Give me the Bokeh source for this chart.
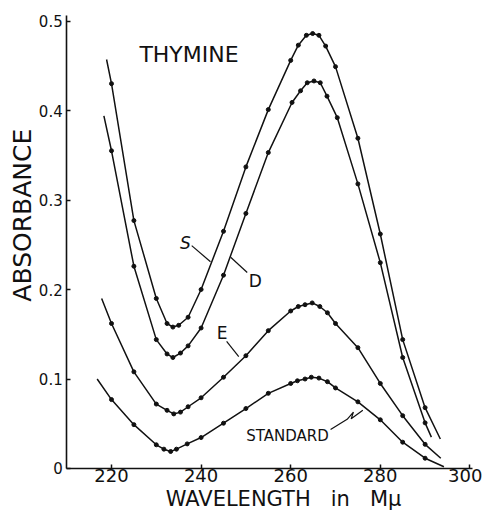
from bokeh.plotting import figure
from bokeh.models import Range1d, FixedTicker, Label
from bokeh.embed import file_html
from bokeh.resources import INLINE

# ---------------- data ----------------
s_wl = [218.9, 220, 225, 230, 232.4, 233.7, 235, 237.1, 240, 245, 250, 255, 260, 261.7, 263.5, 264.9, 266.3, 267.8, 270, 275, 280, 285, 290, 293.4]
s_ab = [0.457, 0.430, 0.277, 0.190, 0.162, 0.158, 0.160, 0.169, 0.200, 0.265, 0.337, 0.401, 0.456, 0.473, 0.484, 0.486, 0.484, 0.472, 0.449, 0.369, 0.262, 0.144, 0.068, 0.033]

d_wl = [218.3, 220, 225, 230, 232.4, 233.7, 235.4, 237.1, 240, 245, 250, 255, 260.3, 262.2, 263.7, 265.2, 266.6, 268.1, 270.4, 275, 280, 285, 290, 291.4]
d_ab = [0.394, 0.355, 0.226, 0.144, 0.128, 0.124, 0.129, 0.137, 0.157, 0.216, 0.285, 0.353, 0.409, 0.422, 0.431, 0.433, 0.431, 0.416, 0.392, 0.318, 0.230, 0.124, 0.051, 0.035]

e_wl = [217.8, 220, 225, 230, 232.4, 233.9, 235.4, 237.1, 240, 245, 250, 255, 260, 261.7, 263.2, 264.8, 266.5, 268.2, 270, 275, 280, 285, 290, 293.5]
e_ab = [0.190, 0.162, 0.108, 0.072, 0.065, 0.061, 0.063, 0.069, 0.079, 0.102, 0.126, 0.154, 0.176, 0.181, 0.183, 0.185, 0.181, 0.174, 0.162, 0.135, 0.095, 0.059, 0.027, 0.0115]

std_wl = [216.8, 220, 225, 230, 231.7, 233.2, 234.5, 236.9, 240, 245, 250, 255, 260, 261.5, 263.2, 264.6, 266.3, 268.2, 270, 275, 280, 285, 290, 294.2]
std_ab = [0.100, 0.077, 0.049, 0.0265, 0.0216, 0.019, 0.0216, 0.0275, 0.0346, 0.0506, 0.067, 0.084, 0.095, 0.098, 0.100, 0.102, 0.101, 0.097, 0.090, 0.0745, 0.0544, 0.0294, 0.0115, 0.002]

x_ticks = [220, 240, 260, 280, 300]
x_tick_labels = ["220", "240", "260", "280", "300"]
y_ticks = [0, 0.1, 0.2, 0.3, 0.4, 0.5]
y_tick_labels = ["0", "0.1", "0.2", "0.3", "0.4", "0.5"]

title_text = "THYMINE"
x_title = "WAVELENGTH\u00a0\u00a0 in\u00a0\u00a0 M\u03bc"
y_title = "ABSORBANCE"

INK = "#111111"
FONT = "DejaVu Sans"

p = figure(width=484, height=513, x_range=Range1d(195.223, 303.259), y_range=Range1d(-0.05028, 0.52291),
           output_backend="svg", toolbar_location=None,
           min_border=0, min_border_left=0, min_border_right=0, min_border_top=0, min_border_bottom=0)
p.outline_line_color = None
p.grid.visible = False
p.background_fill_color = "white"
p.border_fill_color = "white"

# axes drawn at fixed data locations inside the frame
p.xaxis.fixed_location = 0
p.xaxis.bounds = (210, 300.5)
p.yaxis.fixed_location = 210
p.yaxis.bounds = (0, 0.506)
p.xaxis.ticker = FixedTicker(ticks=x_ticks)
p.xaxis.major_label_overrides = {t: (l if t != 300 else "") for t, l in zip(x_ticks, x_tick_labels)}
p.yaxis.ticker = FixedTicker(ticks=y_ticks)
p.yaxis.major_label_overrides = {t: l for t, l in zip(y_ticks, y_tick_labels)}
for ax in (p.xaxis, p.yaxis):
    ax.axis_line_color = INK
    ax.axis_line_width = 1.6
    ax.major_tick_line_color = INK
    ax.major_tick_line_width = 1.5
    ax.major_tick_in = 4
    ax.major_tick_out = 0
    ax.minor_tick_line_color = None
    ax.major_label_text_font = FONT
    ax.major_label_text_color = INK
p.xaxis.major_label_text_font_size = "18px"
p.xaxis.major_label_standoff = 1
p.yaxis.major_label_text_font_size = "15px"
p.yaxis.major_label_standoff = 4

# curves
for wl, ab in ((s_wl, s_ab), (d_wl, d_ab), (e_wl, e_ab), (std_wl, std_ab)):
    p.line(wl, ab, line_color=INK, line_width=1.5)
    p.scatter(wl[1:-1], ab[1:-1], size=4, fill_color=INK, line_color=INK)

# leader lines for curve labels
p.line([237.9, 242.1], [0.249, 0.231], line_color=INK, line_width=1.2)
p.line([250.3, 246.6], [0.219, 0.236], line_color=INK, line_width=1.2)
p.line([245.7, 248.4], [0.142, 0.125], line_color=INK, line_width=1.2)
p.line([268.9, 272.6, 274.0, 273.5, 276.1], [0.0435, 0.0550, 0.0630, 0.0555, 0.0650], line_color=INK, line_width=1.2)

def lab(x, y, text, size, **kw):
    p.add_layout(Label(x=x, y=y, text=text, text_font=FONT, text_font_size=size,
                       text_color=INK, text_align=kw.pop("align", "center"),
                       text_baseline=kw.pop("baseline", "middle"), **kw))

lab(237.3, 0.463, title_text, "22px")
lab(236.5, 0.2525, "S", "17px", text_font_style="italic")
lab(252.1, 0.210, "D", "17px")
lab(244.7, 0.151, "E", "17px")
lab(259.3, 0.0358, "STANDARD", "15px")
lab(258.4, -0.0346, x_title, "21px", baseline="alphabetic")
lab(200.1, 0.283, y_title, "25px", angle=1.5708)
lab(300, -0.0011, x_tick_labels[-1], "18px", align="right", baseline="top", x_offset=12.5)

open("out.html", "w").write(file_html(p, INLINE))
